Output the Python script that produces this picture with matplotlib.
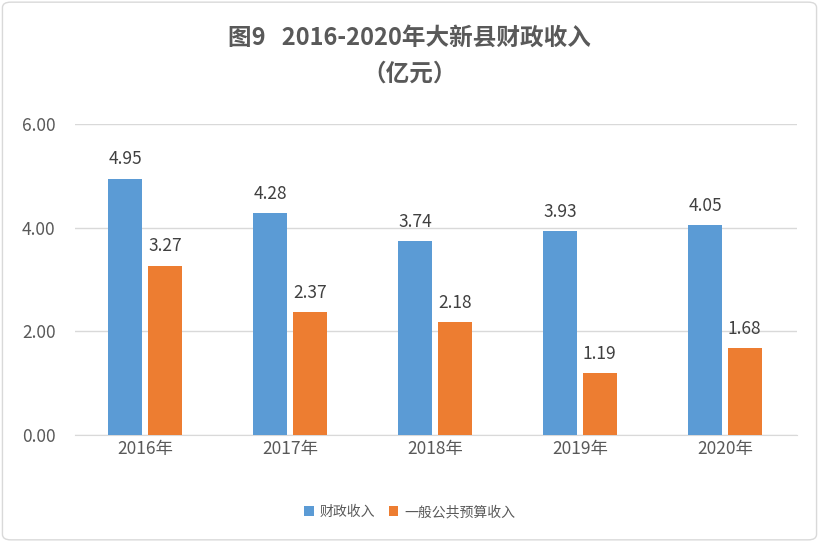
import matplotlib
matplotlib.use('Agg')
import matplotlib.pyplot as plt
from matplotlib.patches import FancyBboxPatch
import numpy as np

plt.rcParams['font.family'] = ['Noto Sans CJK SC', 'DejaVu Sans']

years = ['2016年', '2017年', '2018年', '2019年', '2020年']
fiscal = [4.95, 4.28, 3.74, 3.93, 4.05]
budget = [3.27, 2.37, 2.18, 1.19, 1.68]

blue = '#5B9BD5'
orange = '#ED7D31'

fig = plt.figure(figsize=(8.19, 5.42), dpi=100)
fig.patches.append(FancyBboxPatch((0.003, 0.004), 0.994, 0.992, boxstyle='round,pad=0,rounding_size=0.01',
                                  transform=fig.transFigure, fill=False, edgecolor='#D9D9D9', linewidth=1))
ax = fig.add_axes([0.0916, 0.1974, 0.8814, 0.5736])

x = np.arange(len(years))
w = 0.234
ax.bar(x - w / 2 - 0.02, fiscal, w, color=blue, label='财政收入', zorder=3)
ax.bar(x + w / 2 + 0.02, budget, w, color=orange, label='一般公共预算收入', zorder=3)
for i in range(len(years)):
    ax.text(x[i] - w / 2 - 0.02, fiscal[i] + 0.2, f'{fiscal[i]:.2f}', ha='center', va='bottom', fontsize=12.5, color='#404040')
    ax.text(x[i] + w / 2 + 0.02, budget[i] + 0.2, f'{budget[i]:.2f}', ha='center', va='bottom', fontsize=12.5, color='#404040')

ax.set_xlim(-0.483, 4.497)
ax.set_ylim(0, 6)
ax.set_yticks([0, 2, 4, 6])
ax.set_yticklabels(['0.00', '2.00', '4.00', '6.00'])
ax.set_xticks(x)
ax.set_xticklabels(years)
ax.tick_params(axis='both', length=0, labelsize=12.5, colors='#595959')
ax.tick_params(axis='y', pad=14)
ax.grid(axis='y', color='#D9D9D9', linewidth=1, zorder=0)
for s in ['top', 'right', 'left']:
    ax.spines[s].set_visible(False)
ax.spines['bottom'].set_color('#D9D9D9')

fig.text(0.5, 0.93, '图9   2016-2020年大新县财政收入', ha='center', va='center', fontsize=17, fontweight='bold', color='#595959')
fig.text(0.5, 0.865, '（亿元）', ha='center', va='center', fontsize=17, fontweight='bold', color='#595959')

fig.legend(loc='center', bbox_to_anchor=(0.5, 0.055), ncol=2, frameon=False, fontsize=10,
           handlelength=0.7, handleheight=0.7, columnspacing=1.0, handletextpad=0.4, labelcolor='#595959')

fig.savefig('out.png', dpi=100)
